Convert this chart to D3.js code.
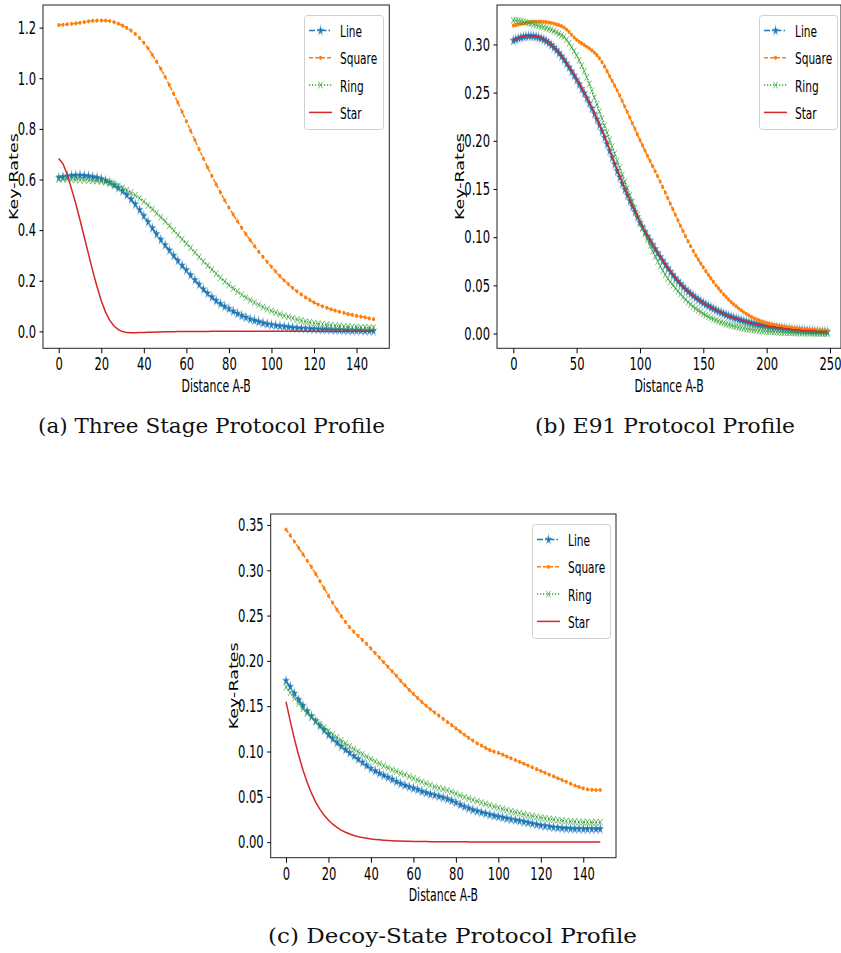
<!DOCTYPE html>
<html>
<head>
<meta charset="utf-8">
<script src="https://cdn.jsdelivr.net/npm/d3@7"></script>
<style>
body { margin: 0; background: #fff; }
svg { display: block; }
</style>
</head>
<body>
<div id="io"></div>
<script>
// distances (x values)
const distShort = [0,2,4,6,8,10,12,14,16,18,20,22,24,26,28,30,32,34,36,38,40,42,44,46,48,50,52,54,56,58,60,62,64,66,68,70,72,74,76,78,80,82,84,86,88,90,92,94,96,98,100,102,104,106,108,110,112,114,116,118,120,122,124,126,128,130,132,134,136,138,140,142,144,146,148];
const distLong = [0,2,4,6,8,10,12,14,16,18,20,22,24,26,28,30,32,34,36,38,40,42,44,46,48,50,52,54,56,58,60,62,64,66,68,70,72,74,76,78,80,82,84,86,88,90,92,94,96,98,100,102,104,106,108,110,112,114,116,118,120,122,124,126,128,130,132,134,136,138,140,142,144,146,148,150,152,154,156,158,160,162,164,166,168,170,172,174,176,178,180,182,184,186,188,190,192,194,196,198,200,202,204,206,208,210,212,214,216,218,220,222,224,226,228,230,232,234,236,238,240,242,244,246,248];

const seriesNames = ['Line', 'Square', 'Ring', 'Star'];

// (a) Three Stage Protocol
const threeLine = [0.607,0.610,0.613,0.615,0.616,0.616,0.615,0.613,0.610,0.607,
  0.602,0.596,0.588,0.578,0.567,0.554,0.539,0.522,0.502,0.480,
  0.456,0.432,0.408,0.384,0.362,0.341,0.320,0.299,0.279,0.260,
  0.242,0.222,0.203,0.185,0.166,0.150,0.135,0.121,0.109,0.098,
  0.089,0.079,0.070,0.062,0.055,0.048,0.043,0.038,0.033,0.029,
  0.026,0.023,0.021,0.019,0.017,0.015,0.013,0.012,0.011,0.010,
  0.009,0.008,0.007,0.007,0.006,0.005,0.005,0.004,0.004,0.003,
  0.003,0.003,0.002,0.002,0.002];
const threeSquare = [1.210,1.211,1.213,1.215,1.217,1.219,1.222,1.225,1.227,1.228,
  1.228,1.228,1.226,1.222,1.216,1.208,1.199,1.188,1.175,1.159,
  1.140,1.118,1.093,1.066,1.037,1.006,0.973,0.939,0.904,0.867,
  0.830,0.793,0.756,0.719,0.683,0.648,0.614,0.581,0.549,0.518,
  0.489,0.462,0.435,0.409,0.384,0.360,0.337,0.315,0.294,0.274,
  0.255,0.236,0.218,0.201,0.186,0.171,0.158,0.146,0.134,0.124,
  0.114,0.106,0.099,0.093,0.087,0.082,0.077,0.073,0.068,0.065,
  0.061,0.058,0.055,0.051,0.048];
const threeRing = [0.603,0.602,0.601,0.600,0.599,0.598,0.597,0.596,0.595,0.594,
  0.592,0.590,0.587,0.582,0.575,0.567,0.558,0.548,0.537,0.526,
  0.513,0.498,0.483,0.467,0.451,0.435,0.417,0.399,0.381,0.364,
  0.347,0.330,0.312,0.294,0.276,0.260,0.244,0.228,0.212,0.197,
  0.183,0.170,0.157,0.145,0.134,0.123,0.114,0.105,0.096,0.088,
  0.081,0.074,0.068,0.062,0.057,0.052,0.047,0.043,0.039,0.036,
  0.033,0.030,0.028,0.026,0.024,0.022,0.021,0.019,0.018,0.017,
  0.016,0.015,0.015,0.014,0.014];
const threeStar = [0.683,0.662,0.620,0.563,0.505,0.440,0.373,0.305,0.238,0.176,
  0.121,0.076,0.043,0.021,0.007,-0.001,-0.005,-0.006,-0.006,-0.005,
  -0.005,-0.004,-0.004,-0.003,-0.003,-0.002,-0.002,-0.002,-0.001,-0.001,
  -0.001,-0.001,-0.001,-0.001,-0.001,-0.001,0,0,0,0,
  0,0,0,0,0,0,0,0,0,0,
  0,0,0,0,0,0,0,0,0,0,
  0,0,0,0,0,0,0,0,0,0,
  0,0,0,0,0];

// (b) E91 Protocol
const e91Line = [0.3040,0.3052,0.3063,0.3072,0.3079,0.3084,0.3087,0.3087,0.3085,0.3080,
  0.3073,0.3063,0.3050,0.3034,0.3015,0.2993,0.2968,0.2940,0.2909,0.2876,
  0.2840,0.2802,0.2762,0.2720,0.2677,0.2633,0.2587,0.2540,0.2492,0.2442,
  0.2390,0.2336,0.2280,0.2222,0.2162,0.2099,0.2033,0.1965,0.1895,0.1825,
  0.1755,0.1685,0.1620,0.1557,0.1495,0.1435,0.1376,0.1318,0.1262,0.1208,
  0.1150,0.1102,0.1055,0.1009,0.0964,0.0920,0.0877,0.0835,0.0794,0.0754,
  0.0715,0.0677,0.0641,0.0606,0.0573,0.0542,0.0513,0.0485,0.0459,0.0435,
  0.0412,0.0391,0.0371,0.0352,0.0334,0.0317,0.0301,0.0286,0.0271,0.0257,
  0.0243,0.0230,0.0218,0.0206,0.0195,0.0184,0.0174,0.0164,0.0155,0.0146,
  0.0138,0.0130,0.0123,0.0116,0.0109,0.0103,0.0097,0.0092,0.0087,0.0082,
  0.0077,0.0073,0.0069,0.0065,0.0062,0.0058,0.0055,0.0052,0.0049,0.0046,
  0.0044,0.0041,0.0039,0.0037,0.0035,0.0033,0.0031,0.0029,0.0027,0.0026,
  0.0024,0.0023,0.0021,0.0020,0.0019];
const e91Square = [0.3195,0.3200,0.3206,0.3212,0.3218,0.3224,0.3229,0.3233,0.3236,0.3237,
  0.3237,0.3236,0.3234,0.3231,0.3227,0.3222,0.3216,0.3209,0.3200,0.3189,
  0.3175,0.3155,0.3130,0.3100,0.3072,0.3048,0.3028,0.3010,0.2993,0.2976,
  0.2958,0.2938,0.2915,0.2888,0.2855,0.2817,0.2772,0.2722,0.2672,0.2622,
  0.2572,0.2522,0.2468,0.2412,0.2355,0.2298,0.2240,0.2182,0.2124,0.2066,
  0.2008,0.1952,0.1897,0.1843,0.1790,0.1737,0.1684,0.1630,0.1575,0.1519,
  0.1462,0.1404,0.1346,0.1288,0.1230,0.1173,0.1117,0.1062,0.1008,0.0956,
  0.0906,0.0858,0.0812,0.0768,0.0726,0.0686,0.0647,0.0609,0.0572,0.0536,
  0.0501,0.0468,0.0437,0.0407,0.0379,0.0352,0.0327,0.0303,0.0281,0.0260,
  0.0240,0.0221,0.0204,0.0188,0.0173,0.0159,0.0147,0.0136,0.0126,0.0117,
  0.0109,0.0102,0.0096,0.0090,0.0085,0.0080,0.0075,0.0071,0.0067,0.0063,
  0.0059,0.0056,0.0053,0.0050,0.0047,0.0045,0.0043,0.0041,0.0039,0.0037,
  0.0035,0.0033,0.0032,0.0030,0.0029];
const e91Ring = [0.3250,0.3248,0.3245,0.3241,0.3236,0.3230,0.3223,0.3216,0.3209,0.3201,
  0.3194,0.3186,0.3178,0.3170,0.3161,0.3151,0.3139,0.3125,0.3110,0.3095,
  0.3080,0.3048,0.3012,0.2972,0.2930,0.2885,0.2835,0.2780,0.2722,0.2660,
  0.2590,0.2520,0.2449,0.2377,0.2304,0.2231,0.2158,0.2085,0.2012,0.1939,
  0.1866,0.1793,0.1721,0.1649,0.1578,0.1508,0.1438,0.1368,0.1299,0.1231,
  0.1164,0.1098,0.1034,0.0972,0.0912,0.0855,0.0800,0.0748,0.0699,0.0653,
  0.0610,0.0570,0.0535,0.0502,0.0470,0.0439,0.0409,0.0380,0.0352,0.0326,
  0.0302,0.0280,0.0259,0.0240,0.0222,0.0205,0.0189,0.0175,0.0162,0.0150,
  0.0138,0.0127,0.0117,0.0108,0.0099,0.0091,0.0084,0.0077,0.0071,0.0065,
  0.0059,0.0054,0.0049,0.0045,0.0041,0.0037,0.0034,0.0031,0.0028,0.0025,
  0.0023,0.0021,0.0019,0.0017,0.0015,0.0014,0.0012,0.0011,0.0010,0.0009,
  0.0008,0.0007,0.0006,0.0006,0.0005,0.0005,0.0004,0.0004,0.0003,0.0003,
  0.0003,0.0002,0.0002,0.0002,0.0002];
const e91Star = [0.304,0.306,0.307,0.308,0.308,0.309,0.309,0.309,0.309,0.308,
  0.308,0.307,0.305,0.304,0.302,0.300,0.297,0.295,0.292,0.289,
  0.285,0.281,0.277,0.273,0.269,0.264,0.260,0.255,0.250,0.245,
  0.240,0.234,0.229,0.223,0.217,0.211,0.205,0.198,0.191,0.184,
  0.177,0.170,0.164,0.157,0.151,0.145,0.139,0.133,0.128,0.122,
  0.116,0.111,0.106,0.102,0.097,0.093,0.088,0.084,0.080,0.076,
  0.072,0.068,0.065,0.061,0.058,0.055,0.052,0.049,0.046,0.044,
  0.042,0.039,0.037,0.035,0.034,0.032,0.030,0.029,0.027,0.026,
  0.024,0.023,0.022,0.021,0.019,0.018,0.017,0.016,0.015,0.015,
  0.014,0.013,0.012,0.012,0.011,0.010,0.010,0.009,0.009,0.008,
  0.008,0.007,0.007,0.007,0.006,0.006,0.006,0.005,0.005,0.005,
  0.004,0.004,0.004,0.004,0.003,0.003,0.003,0.003,0.003,0.003,
  0.002,0.002,0.002,0.002,0.002];

// (c) Decoy-State Protocol
const decoyLine = [0.1780,0.1715,0.1640,0.1570,0.1505,0.1445,0.1390,0.1335,0.1285,0.1235,
  0.1185,0.1140,0.1098,0.1058,0.1020,0.0985,0.0950,0.0915,0.0880,0.0845,
  0.0812,0.0785,0.0760,0.0737,0.0715,0.0692,0.0668,0.0645,0.0627,0.0610,
  0.0595,0.0580,0.0560,0.0545,0.0530,0.0518,0.0505,0.0492,0.0476,0.0458,
  0.0437,0.0413,0.0392,0.0374,0.0357,0.0342,0.0329,0.0316,0.0303,0.0292,
  0.0282,0.0272,0.0262,0.0252,0.0243,0.0234,0.0225,0.0215,0.0205,0.0195,
  0.0186,0.0178,0.0171,0.0164,0.0159,0.0155,0.0151,0.0149,0.0147,0.0146,
  0.0145,0.0145,0.0145,0.0145,0.0145];
const decoySquare = [0.3450,0.3385,0.3315,0.3245,0.3175,0.3105,0.3035,0.2960,0.2880,0.2800,
  0.2720,0.2640,0.2565,0.2495,0.2430,0.2370,0.2320,0.2275,0.2230,0.2185,
  0.2135,0.2085,0.2035,0.1985,0.1935,0.1885,0.1835,0.1780,0.1730,0.1680,
  0.1635,0.1590,0.1545,0.1505,0.1465,0.1430,0.1395,0.1360,0.1325,0.1290,
  0.1255,0.1220,0.1185,0.1150,0.1120,0.1090,0.1065,0.1040,0.1015,0.0998,
  0.0985,0.0965,0.0945,0.0925,0.0905,0.0885,0.0865,0.0845,0.0825,0.0805,
  0.0785,0.0765,0.0745,0.0725,0.0705,0.0685,0.0665,0.0645,0.0625,0.0608,
  0.0592,0.0582,0.0577,0.0575,0.0575];
const decoyRing = [0.1710,0.1650,0.1590,0.1530,0.1470,0.1420,0.1375,0.1335,0.1297,0.1260,
  0.1225,0.1190,0.1155,0.1120,0.1088,0.1057,0.1027,0.0998,0.0969,0.0941,
  0.0915,0.0890,0.0866,0.0843,0.0820,0.0800,0.0780,0.0760,0.0743,0.0725,
  0.0705,0.0685,0.0665,0.0647,0.0628,0.0610,0.0595,0.0585,0.0572,0.0555,
  0.0535,0.0515,0.0497,0.0481,0.0466,0.0451,0.0436,0.0421,0.0406,0.0392,
  0.0378,0.0365,0.0353,0.0341,0.0330,0.0319,0.0308,0.0297,0.0287,0.0278,
  0.0270,0.0262,0.0255,0.0249,0.0243,0.0237,0.0232,0.0228,0.0225,0.0222,
  0.0220,0.0219,0.0219,0.0219,0.0219];
const decoyStar = [0.1550,0.1335,0.1135,0.0955,0.0795,0.0658,0.0540,0.0442,0.0362,0.0296,
  0.0242,0.0198,0.0162,0.0133,0.0109,0.0089,0.0073,0.0060,0.0050,0.0042,
  0.0035,0.0030,0.0025,0.0021,0.0018,0.0015,0.0013,0.0011,0.0010,0.0009,
  0.0008,0.0007,0.0006,0.0006,0.0005,0.0005,0.0004,0.0004,0.0004,0.0003,
  0.0003,0.0003,0.0003,0.0002,0.0002,0.0002,0.0002,0.0002,0.0002,0.0001,
  0.0001,0.0001,0.0001,0.0001,0.0001,0.0001,0.0001,0.0001,0.0001,0.0001,
  0.0001,0.0001,0.0001,0.0001,0.0001,0.0001,0.0001,0.0001,0.0001,0.0001,
  0.0001,0.0001,0.0001,0.0001,0.0001];

// tick labels
const xTicksShort = [0, 20, 40, 60, 80, 100, 120, 140];
const xTicksLong = [0, 50, 100, 150, 200, 250];
const yTicksThree = [0.0, 0.2, 0.4, 0.6, 0.8, 1.0, 1.2];
const yTicksE91 = [0.00, 0.05, 0.10, 0.15, 0.20, 0.25, 0.30];
const yTicksDecoy = [0.00, 0.05, 0.10, 0.15, 0.20, 0.25, 0.30, 0.35];

const captions = ['(a) Three Stage Protocol Profile', '(b) E91 Protocol Profile', '(c) Decoy-State Protocol Profile'];

const colors = ['#1f77b4', '#ff7f0e', '#2ca02c', '#d62728'];
const dashes = ['6,2,1.5,2', '4,2', '1.2,1.8', null];
const SX = 0.64; // the whole figure is squeezed horizontally

const panels = [
  { dist: distShort, data: [threeLine, threeSquare, threeRing, threeStar],
    xDom: [-7.4, 155.4], xRange: [43, 389.3], yDom: [-0.067, 1.2895], yRange: [348.3, 5],
    xTicks: xTicksShort, yTicks: yTicksThree, yFmt: '.1f',
    leg: [304, 15, 79], ylabX: 18, cap: [38, 433, 347] },
  { dist: distLong, data: [e91Line, e91Square, e91Ring, e91Star],
    xDom: [-12.87, 258.7], xRange: [497, 841], yDom: [-0.0153, 0.3409], yRange: [348.3, 5],
    xTicks: xTicksLong, yTicks: yTicksE91, yFmt: '.2f',
    leg: [759, 15, 78], ylabX: 464, cap: [535, 433, 260] },
  { dist: distShort, data: [decoyLine, decoySquare, decoyRing, decoyStar],
    xDom: [-7.2, 155.4], xRange: [270.7, 616], yDom: [-0.0172, 0.3621], yRange: [857.7, 514],
    xTicks: xTicksShort, yTicks: yTicksDecoy, yFmt: '.2f',
    leg: [532, 524, 78], ylabX: 238, cap: [268, 943, 369] }
];

const svg = d3.select('#io').append('svg')
  .attr('width', 841).attr('height', 953)
  .style('font-family', '"DejaVu Sans", sans-serif');

function marker(g, k, x, y) {
  const c = colors[k];
  if (k === 0) {
    g.append('path').attr('d', d3.symbol().type(d3.symbolStar).size(22)())
      .attr('transform', `translate(${x},${y}) scale(${SX},1)`)
      .attr('fill', c).attr('stroke', c).attr('stroke-opacity', 0.45).attr('stroke-width', 1.4);
  } else if (k === 1) {
    g.append('ellipse').attr('cx', x).attr('cy', y).attr('rx', 1.5).attr('ry', 2.1).attr('fill', c);
  } else if (k === 2) {
    g.append('path').attr('d', 'M-3.4,-3.4L3.4,3.4M-3.4,3.4L3.4,-3.4')
      .attr('transform', `translate(${x},${y}) scale(${SX},1)`)
      .attr('fill', 'none').attr('stroke', c).attr('stroke-width', 1).attr('stroke-opacity', 0.8);
  }
}

panels.forEach((p, pi) => {
  const x = d3.scaleLinear().domain(p.xDom).range(p.xRange);
  const y = d3.scaleLinear().domain(p.yDom).range(p.yRange);
  const g = svg.append('g');

  // frame
  g.append('rect')
    .attr('x', p.xRange[0]).attr('y', p.yRange[1])
    .attr('width', p.xRange[1] - p.xRange[0]).attr('height', p.yRange[0] - p.yRange[1])
    .attr('fill', 'none').attr('stroke', '#222').attr('stroke-width', 1);

  // series
  p.data.forEach((vals, k) => {
    const pts = p.dist.map((d, i) => [d, vals[i]]);
    g.append('path')
      .attr('d', d3.line().x(d => x(d[0])).y(d => y(d[1]))(pts))
      .attr('fill', 'none').attr('stroke', colors[k]).attr('stroke-width', 1.5)
      .attr('stroke-dasharray', dashes[k]);
    const mg = g.append('g');
    if (k < 3) pts.forEach(d => marker(mg, k, x(d[0]), y(d[1])));
  });

  // axes
  const gx = g.append('g').attr('transform', `translate(0,${p.yRange[0]})`)
    .call(d3.axisBottom(x).tickValues(p.xTicks).tickSize(5).tickFormat(d3.format('d')));
  const gy = g.append('g').attr('transform', `translate(${p.xRange[0]},0)`)
    .call(d3.axisLeft(y).tickValues(p.yTicks).tickSize(3.5).tickFormat(d3.format(p.yFmt)));
  [gx, gy].forEach(a => {
    a.select('.domain').remove();
    a.attr('font-family', '"DejaVu Sans", sans-serif').attr('font-size', 18).attr('color', '#000');
  });
  gx.selectAll('.tick text').attr('y', 22.2).attr('dy', 0).attr('transform', `scale(${SX},1)`);
  gy.selectAll('.tick text').attr('x', -7 / SX).attr('transform', `scale(${SX},1)`);

  // axis labels
  const cx = (p.xRange[0] + p.xRange[1]) / 2;
  const cy = (p.yRange[0] + p.yRange[1]) / 2;
  g.append('text').text('Distance A-B')
    .attr('transform', `translate(${cx},${p.yRange[0] + 43.5}) scale(${SX},1)`)
    .attr('text-anchor', 'middle').attr('font-size', 17).attr('fill', '#000');
  g.append('text').text('Key-Rates')
    .attr('transform', `translate(${p.ylabX},${cy}) scale(0.68,1) rotate(-90)`)
    .attr('text-anchor', 'middle').attr('font-size', 17.5).attr('fill', '#000');

  // legend
  const lg = g.append('g').attr('transform', `translate(${p.leg[0]},${p.leg[1]})`);
  lg.append('rect').attr('x', 0.5).attr('y', 0.5).attr('width', p.leg[2]).attr('height', 114)
    .attr('rx', 3).attr('fill', '#fff').attr('fill-opacity', 0.8).attr('stroke', '#d0d0d0');
  seriesNames.forEach((n, k) => {
    const ry = 15.5 + k * 27.3;
    lg.append('line').attr('x1', 5).attr('x2', 28).attr('y1', ry).attr('y2', ry)
      .attr('stroke', colors[k]).attr('stroke-width', 1.5).attr('stroke-dasharray', dashes[k]);
    marker(lg, k, 16.5, ry);
    lg.append('text').text(n)
      .attr('transform', `translate(36,${ry + 6.5}) scale(${SX},1)`)
      .attr('font-size', 16.5).attr('fill', '#000');
  });

  // caption
  svg.append('text').text(captions[pi])
    .attr('x', p.cap[0]).attr('y', p.cap[1])
    .attr('textLength', p.cap[2]).attr('lengthAdjust', 'spacingAndGlyphs')
    .attr('font-family', '"DejaVu Serif", serif').attr('font-size', 20).attr('fill', '#111');
});
</script>
</body>
</html>
